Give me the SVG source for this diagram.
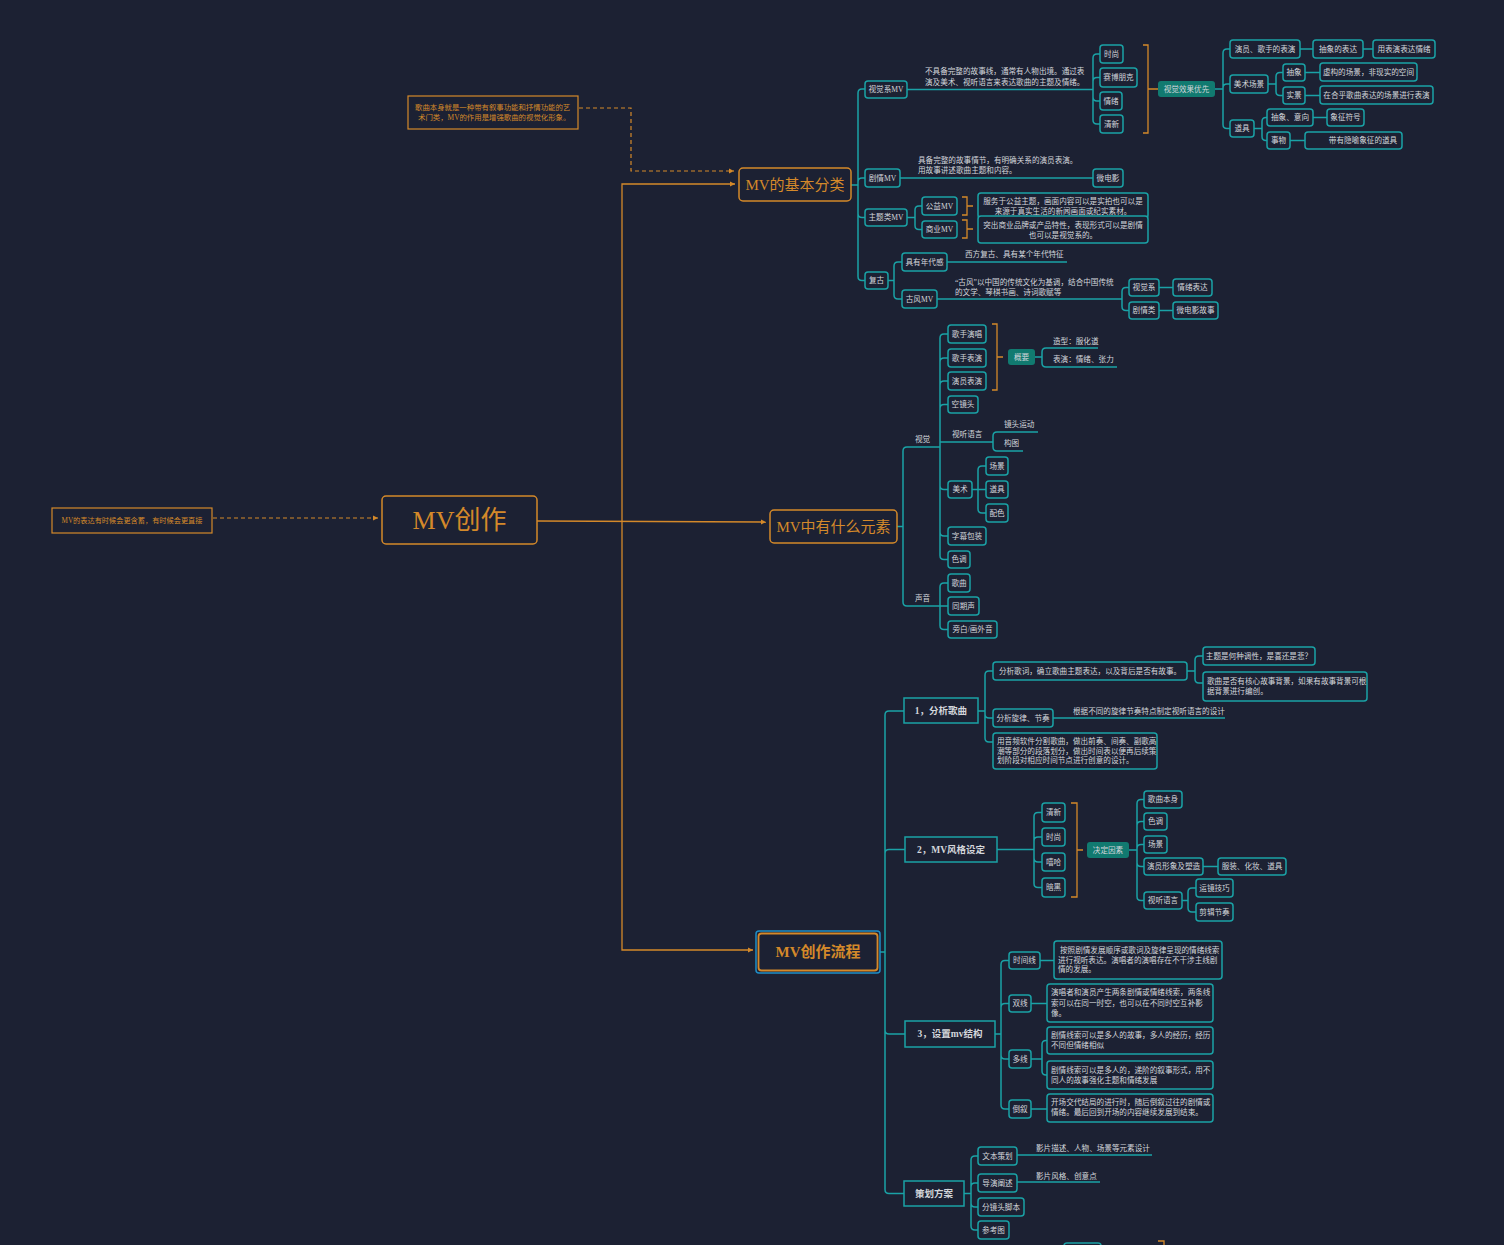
<svg xmlns="http://www.w3.org/2000/svg" width="1504" height="1245" viewBox="0 0 1504 1245">
<defs>
<marker id="ao" markerWidth="6" markerHeight="6" refX="5" refY="3" orient="auto" markerUnits="userSpaceOnUse"><path d="M0,0.5 L5,3 L0,5.5z" fill="#d4892a"/></marker>
<style>
.c{fill:none;stroke:#1aa2a6;stroke-width:1.5}
.o{fill:none;stroke:#d4892a;stroke-width:1.3}
.od{fill:none;stroke:#d4892a;stroke-width:1.2;stroke-dasharray:4 3}
.n{fill:#1c2133;stroke:#1aa2a6;stroke-width:1.5}
.nf{fill:#117a70;stroke:none}
.no{fill:#1c2133;stroke:#d4892a;stroke-width:1.5}
.t{font-family:"Liberation Serif","Noto Sans CJK SC",serif;font-size:7.6px;fill:#d3d6db;dominant-baseline:central}
.m{text-anchor:middle}
.ot{fill:#d4892a}
.h{font-size:15px;fill:#d4892a;text-anchor:middle}
.b{font-size:9.5px;font-weight:bold;text-anchor:middle}
</style>
</defs>
<rect x="0" y="0" width="1504" height="1245" fill="#1c2133"/>

<g id="main-connectors">
<path class="od" d="M213,518H378" marker-end="url(#ao)"/>
<path class="o" d="M537,521L766,522" marker-end="url(#ao)"/>
<path class="o" d="M622,521V184H735" marker-end="url(#ao)"/>
<path class="o" d="M622,521V950H753" marker-end="url(#ao)"/>
<path class="od" d="M579,108H631V171H734" marker-end="url(#ao)"/>
</g>

<g id="connectors">
<!-- basic category -->
<path class="c" d="M851,185H858M858,185V93Q858,89 862,89H865M858,185V182Q858,178 862,178H865M858,185V213.5Q858,217.5 862,217.5H865M858,185V276.5Q858,280.5 862,280.5H865"/>
<path class="c" d="M907,89.5H1093M1093,89.5V58Q1093,54 1097,54H1100M1093,89.5V81.5Q1093,77.5 1097,77.5H1100M1093,89.5V97Q1093,101 1097,101H1100M1093,89.5V120Q1093,124 1097,124H1100"/>
<path class="c" d="M1215,89H1223M1223,89V53Q1223,49 1227,49H1230M1223,89V88Q1223,84 1227,84H1230M1223,89V124.5Q1223,128.5 1227,128.5H1230M1300,49H1313M1363,49H1373"/>
<path class="c" d="M1268,84H1276M1276,84V76.5Q1276,72.5 1280,72.5H1283M1276,84V91.5Q1276,95.5 1280,95.5H1283M1305,72.5H1320M1305,95.5H1320"/>
<path class="c" d="M1254,128.5H1262M1262,128.5V121.5Q1262,117.5 1266,117.5H1267M1262,128.5V136.5Q1262,140.5 1266,140.5H1267M1313,117.5H1327M1290,140.5H1305"/>
<path class="c" d="M900,178H1093"/>
<path class="c" d="M907,217.5H915M915,217.5V210Q915,206 919,206H922M915,217.5V225.5Q915,229.5 919,229.5H922"/>
<path class="c" d="M888,280.5H894M894,280.5V266Q894,262 898,262H902M894,280.5V295Q894,299 898,299H902M947,262H1067M937,299H1122M1122,299V291.5Q1122,287.5 1126,287.5H1129M1122,299V306.5Q1122,310.5 1126,310.5H1129M1159,287.5H1173M1159,310.5H1173"/>
<path class="o" d="M1143,45H1148V133H1143M1148,89H1158"/>
<path class="o" d="M962,197H967V215H962M967,206H973M962,220H967V238H962M967,229H973"/>
<!-- elements -->
<path class="c" d="M897,526.5H903M903,526.5V451Q903,447 907,447H940M903,526.5V602Q903,606 907,606H940"/>
<path class="c" d="M940,447V338Q940,334 944,334H948M940,447V362Q940,358 944,358H948M940,447V385Q940,381 944,381H948M940,447V408.5Q940,404.5 944,404.5H948M940,442H993M940,447V485.5Q940,489.5 944,489.5H948M940,447V532Q940,536 944,536H948M940,447V555.5Q940,559.5 944,559.5H948"/>
<path class="c" d="M993,442V436Q993,432 997,432H1038M993,442V447Q993,451 997,451H1023"/>
<path class="c" d="M972,489.5H978M978,489.5V470Q978,466 982,466H986M978,489.5H986M978,489.5V509Q978,513 982,513H986"/>
<path class="c" d="M940,606V587Q940,583 944,583H948M940,606H948M940,606V625.5Q940,629.5 944,629.5H948"/>
<path class="c" d="M1035,357H1042M1042,357V352Q1042,348 1046,348H1098M1042,357V363Q1042,367 1046,367H1117"/>
<path class="o" d="M992,324H997V390H992M997,357H1003"/>
<!-- process -->
<path class="c" d="M880,952H885M885,952V715Q885,711 889,711H904M885,952V853.5Q885,849.5 889,849.5H905M885,952V1030Q885,1034 889,1034H905M885,952V1189.5Q885,1193.5 889,1193.5H904"/>
<path class="c" d="M978,711H985M985,711V675Q985,671 989,671H993M985,711V714Q985,718 989,718H993M985,711V738Q985,742 989,742H993M1053,718H1225"/>
<path class="c" d="M1187,671H1195M1195,671V660Q1195,656 1199,656H1203M1195,671V679Q1195,683 1199,683H1203"/>
<path class="c" d="M997,849.5H1034M1034,849.5V816.5Q1034,812.5 1038,812.5H1042M1034,849.5V841Q1034,837 1038,837H1042M1034,849.5V858Q1034,862 1038,862H1042M1034,849.5V883.5Q1034,887.5 1038,887.5H1042"/>
<path class="o" d="M1071,803H1077V897H1071M1077,850H1083"/>
<path class="c" d="M1129,850H1137M1137,850V803.5Q1137,799.5 1141,799.5H1144M1137,850V825.5Q1137,821.5 1141,821.5H1144M1137,850V848.5Q1137,844.5 1141,844.5H1144M1137,850V862.5Q1137,866.5 1141,866.5H1144M1137,850V896.5Q1137,900.5 1141,900.5H1144M1203,866.5H1218"/>
<path class="c" d="M1182,900.5H1188M1188,900.5V892Q1188,888 1192,888H1196M1188,900.5V908Q1188,912 1192,912H1196"/>
<path class="c" d="M995,1034H1001M1001,1034V964.5Q1001,960.5 1005,960.5H1009M1001,1034V1007.5Q1001,1003.5 1005,1003.5H1009M1001,1034V1055Q1001,1059 1005,1059H1009M1001,1034V1105Q1001,1109 1005,1109H1009"/>
<path class="c" d="M1040,960.5H1054M1031,1003.5H1047M1031,1059H1042M1042,1059V1044.5Q1042,1040.5 1046,1040.5H1047M1042,1059V1071Q1042,1075 1046,1075H1047M1031,1109H1047"/>
<path class="c" d="M964,1193.5H971M971,1193.5V1160Q971,1156 975,1156H978M971,1193.5V1187Q971,1183 975,1183H978M971,1193.5V1203Q971,1207 975,1207H978M971,1193.5V1226Q971,1230 975,1230H978M1017,1155H1152M1017,1182H1100"/>
<path class="o" d="M1158,1241H1164V1250"/>
</g>

<g id="notes">
<g id="note-top"><rect class="no" x="408" y="96" width="170" height="33" style="stroke-width:1.2"/>
<text class="t ot" x="415" y="107" style="font-size:7.4px">歌曲本身就是一种带有叙事功能和抒情功能的艺</text>
<text class="t ot" x="418" y="117" style="font-size:7.4px">术门类，MV的作用是增强歌曲的视觉化形象。</text></g>
<g id="note-left"><rect class="no" x="52" y="508" width="160" height="25" style="stroke-width:1.2"/>
<text class="t ot m" x="132" y="520.5" style="font-size:7.2px">MV的表达有时候会更含蓄，有时候会更直接</text></g>
</g>

<g id="root"><rect class="no" x="382" y="496" width="155" height="48" rx="4"/><text class="t ot m" x="459.5" y="520" style="font-size:26px">MV创作</text></g>
<g id="basic"><rect class="no" x="739" y="168" width="112" height="33" rx="4"/><text class="t h" x="795" y="185">MV的基本分类</text></g>
<g id="elements"><rect class="no" x="770" y="510" width="127" height="33" rx="4"/><text class="t h" x="833.5" y="526.5">MV中有什么元素</text></g>
<g id="process"><rect x="756" y="931" width="124" height="42" rx="3" fill="none" stroke="#1e8ec8" stroke-width="1.5"/><rect class="no" x="758.5" y="933.5" width="119" height="37" rx="3" style="stroke-width:1.8"/><text class="t h" x="818" y="952" style="font-weight:bold">MV创作流程</text></g>

<!-- basic category nodes -->
<g id="b-visual"><rect class="n" x="865" y="81" width="42" height="17" rx="3"/><text class="t m" x="886" y="89.5">视觉系MV</text></g>
<g id="b-visual-desc"><text class="t" x="925" y="71">不具备完整的故事线，通常有人物出境。通过表</text><text class="t" x="925" y="82">演及美术、视听语言来表达歌曲的主题及情绪。</text></g>
<g id="b-v1"><rect class="n" x="1100" y="45" width="23" height="18" rx="3"/><text class="t m" x="1111.5" y="54">时尚</text></g>
<g id="b-v2"><rect class="n" x="1100" y="68" width="37" height="19" rx="3"/><text class="t m" x="1118.5" y="77.5">赛博朋克</text></g>
<g id="b-v3"><rect class="n" x="1100" y="92" width="22" height="18" rx="3"/><text class="t m" x="1111" y="101">情绪</text></g>
<g id="b-v4"><rect class="n" x="1100" y="115" width="23" height="18" rx="3"/><text class="t m" x="1111.5" y="124">清新</text></g>
<g id="b-vfx"><rect class="nf" x="1158" y="81" width="57" height="16" rx="3"/><text class="t m" x="1186.5" y="89">视觉效果优先</text></g>
<g id="b-act"><rect class="n" x="1230" y="40" width="70" height="18" rx="3"/><text class="t m" x="1265" y="49">演员、歌手的表演</text></g>
<g id="b-act2"><rect class="n" x="1313" y="40" width="50" height="18" rx="3"/><text class="t m" x="1338" y="49">抽象的表达</text></g>
<g id="b-act3"><rect class="n" x="1373" y="40" width="62" height="18" rx="3"/><text class="t m" x="1404" y="49">用表演表达情绪</text></g>
<g id="b-art"><rect class="n" x="1230" y="75" width="38" height="18" rx="3"/><text class="t m" x="1249" y="84">美术场景</text></g>
<g id="b-art1"><rect class="n" x="1283" y="64" width="22" height="17" rx="3"/><text class="t m" x="1294" y="72.5">抽象</text></g>
<g id="b-art2"><rect class="n" x="1283" y="87" width="22" height="17" rx="3"/><text class="t m" x="1294" y="95.5">实景</text></g>
<g id="b-art1d"><rect class="n" x="1320" y="63" width="97" height="18" rx="3"/><text class="t m" x="1368.5" y="72">虚构的场景，非现实的空间</text></g>
<g id="b-art2d"><rect class="n" x="1320" y="86" width="113" height="18" rx="3"/><text class="t m" x="1376.5" y="95">在合乎歌曲表达的场景进行表演</text></g>
<g id="b-prop"><rect class="n" x="1230" y="120" width="24" height="17" rx="3"/><text class="t m" x="1242" y="128.5">道具</text></g>
<g id="b-prop1"><rect class="n" x="1267" y="109" width="46" height="17" rx="3"/><text class="t m" x="1290" y="117.5">抽象、意向</text></g>
<g id="b-prop1d"><rect class="n" x="1327" y="109" width="37" height="17" rx="3"/><text class="t m" x="1345.5" y="117.5">象征符号</text></g>
<g id="b-prop2"><rect class="n" x="1267" y="132" width="23" height="17" rx="3"/><text class="t m" x="1278.5" y="140.5">事物</text></g>
<g id="b-prop2d"><rect class="n" x="1305" y="132" width="97" height="17" rx="3"/><text class="t m" x="1363" y="140.5">带有隐喻象征的道具</text></g>
<g id="b-drama"><rect class="n" x="865" y="169" width="35" height="18" rx="3"/><text class="t m" x="882.5" y="178">剧情MV</text></g>
<g id="b-drama-desc"><text class="t" x="918" y="160.5">具备完整的故事情节，有明确关系的演员表演。</text><text class="t" x="918" y="170.5">用故事讲述歌曲主题和内容。</text></g>
<g id="b-micro"><rect class="n" x="1093" y="169" width="30" height="18" rx="3"/><text class="t m" x="1108" y="178">微电影</text></g>
<g id="b-theme"><rect class="n" x="865" y="209" width="42" height="17" rx="3"/><text class="t m" x="886" y="217.5">主题类MV</text></g>
<g id="b-public"><rect class="n" x="922" y="197" width="35" height="18" rx="3"/><text class="t m" x="939.5" y="206">公益MV</text></g>
<g id="b-comm"><rect class="n" x="922" y="221" width="35" height="17" rx="3"/><text class="t m" x="939.5" y="229.5">商业MV</text></g>
<g id="b-public-d"><rect class="n" x="978" y="193" width="170" height="25" rx="3"/><text class="t m" x="1063" y="201">服务于公益主题，画面内容可以是实拍也可以是</text><text class="t m" x="1063" y="211">来源于真实生活的新闻画面或纪实素材。</text></g>
<g id="b-comm-d"><rect class="n" x="978" y="216" width="170" height="27" rx="3"/><text class="t m" x="1063" y="225">突出商业品牌或产品特性，表现形式可以是剧情</text><text class="t m" x="1063" y="235">也可以是视觉系的。</text></g>
<g id="b-retro"><rect class="n" x="865" y="272" width="23" height="17" rx="3"/><text class="t m" x="876.5" y="280.5">复古</text></g>
<g id="b-era"><rect class="n" x="902" y="253" width="45" height="18" rx="3"/><text class="t m" x="924.5" y="262">具有年代感</text></g>
<g id="b-era-d"><text class="t" x="965" y="254">西方复古、具有某个年代特征</text></g>
<g id="b-gufeng"><rect class="n" x="902" y="290" width="35" height="18" rx="3"/><text class="t m" x="919.5" y="299">古风MV</text></g>
<g id="b-gufeng-d"><text class="t" x="955" y="282">“古风”以中国的传统文化为基调，结合中国传统</text><text class="t" x="955" y="292">的文学、琴棋书画、诗词歌赋等</text></g>
<g id="b-g1"><rect class="n" x="1129" y="279" width="30" height="17" rx="3"/><text class="t m" x="1144" y="287.5">视觉系</text></g>
<g id="b-g2"><rect class="n" x="1129" y="302" width="30" height="17" rx="3"/><text class="t m" x="1144" y="310.5">剧情类</text></g>
<g id="b-g1d"><rect class="n" x="1173" y="279" width="39" height="17" rx="3"/><text class="t m" x="1192.5" y="287.5">情绪表达</text></g>
<g id="b-g2d"><rect class="n" x="1173" y="302" width="45" height="17" rx="3"/><text class="t m" x="1195.5" y="310.5">微电影故事</text></g>

<!-- elements nodes -->
<g id="e-visual"><text class="t" x="915" y="439">视觉</text></g>
<g id="e-sound"><text class="t" x="915" y="598">声音</text></g>
<g id="e1"><rect class="n" x="948" y="325" width="38" height="18" rx="3"/><text class="t m" x="967" y="334">歌手演唱</text></g>
<g id="e2"><rect class="n" x="948" y="349" width="38" height="18" rx="3"/><text class="t m" x="967" y="358">歌手表演</text></g>
<g id="e3"><rect class="n" x="948" y="372" width="38" height="18" rx="3"/><text class="t m" x="967" y="381">演员表演</text></g>
<g id="e4"><rect class="n" x="948" y="396" width="30" height="17" rx="3"/><text class="t m" x="963" y="404.5">空镜头</text></g>
<g id="e5"><text class="t" x="952" y="434">视听语言</text></g>
<g id="e5a"><text class="t" x="1004" y="424">镜头运动</text></g>
<g id="e5b"><text class="t" x="1004" y="443">构图</text></g>
<g id="e6"><rect class="n" x="948" y="481" width="24" height="17" rx="3"/><text class="t m" x="960" y="489.5">美术</text></g>
<g id="e6a"><rect class="n" x="986" y="457" width="22" height="18" rx="3"/><text class="t m" x="997" y="466">场景</text></g>
<g id="e6b"><rect class="n" x="986" y="481" width="22" height="17" rx="3"/><text class="t m" x="997" y="489.5">道具</text></g>
<g id="e6c"><rect class="n" x="986" y="504" width="22" height="18" rx="3"/><text class="t m" x="997" y="513">配色</text></g>
<g id="e7"><rect class="n" x="948" y="527" width="38" height="18" rx="3"/><text class="t m" x="967" y="536">字幕包装</text></g>
<g id="e8"><rect class="n" x="948" y="551" width="22" height="17" rx="3"/><text class="t m" x="959" y="559.5">色调</text></g>
<g id="e9"><rect class="n" x="948" y="574" width="22" height="18" rx="3"/><text class="t m" x="959" y="583">歌曲</text></g>
<g id="e10"><rect class="n" x="948" y="597" width="31" height="18" rx="3"/><text class="t m" x="963.5" y="606">同期声</text></g>
<g id="e11"><rect class="n" x="948" y="621" width="49" height="17" rx="3"/><text class="t m" x="972.5" y="629.5">旁白/画外音</text></g>
<g id="e-sum"><rect class="nf" x="1008" y="349" width="27" height="16" rx="3"/><text class="t m" x="1021.5" y="357">概要</text></g>
<g id="e-sum1"><text class="t" x="1053" y="341">造型：服化道</text></g>
<g id="e-sum2"><text class="t" x="1053" y="359">表演：情绪、张力</text></g>

<!-- process nodes -->
<g id="p1"><rect class="n" x="904" y="698" width="74" height="25"/><text class="t b" x="941" y="711">1，分析歌曲</text></g>
<g id="p1a"><rect class="n" x="993" y="662" width="194" height="18" rx="3"/><text class="t m" x="1090" y="671">分析歌词，确立歌曲主题表达，以及背后是否有故事。</text></g>
<g id="p1a1"><rect class="n" x="1203" y="647" width="112" height="18" rx="3"/><text class="t m" x="1259" y="656">主题是何种调性，是喜还是悲？</text></g>
<g id="p1a2"><rect class="n" x="1203" y="672" width="164" height="29" rx="3"/><text class="t" x="1207" y="681">歌曲是否有核心故事背景，如果有故事背景可根</text><text class="t" x="1207" y="691">据背景进行编创。</text></g>
<g id="p1b"><rect class="n" x="993" y="709" width="60" height="18" rx="3"/><text class="t m" x="1023" y="718">分析旋律、节奏</text></g>
<g id="p1b-d"><text class="t" x="1073" y="711">根据不同的旋律节奏特点制定视听语言的设计</text></g>
<g id="p1c"><rect class="n" x="993" y="733" width="164" height="36" rx="3"/><text class="t" x="997" y="741.5">用音频软件分割歌曲，做出前奏、间奏、副歌高</text><text class="t" x="997" y="751">潮等部分的段落划分，做出时间表以便再后续策</text><text class="t" x="997" y="760.5">划阶段对相应时间节点进行创意的设计。</text></g>

<g id="p2"><rect class="n" x="905" y="837" width="92" height="25"/><text class="t b" x="951" y="849.5">2，MV风格设定</text></g>
<g id="p2a"><rect class="n" x="1042" y="803" width="23" height="19" rx="3"/><text class="t m" x="1053.5" y="812.5">清新</text></g>
<g id="p2b"><rect class="n" x="1042" y="828" width="23" height="18" rx="3"/><text class="t m" x="1053.5" y="837">时尚</text></g>
<g id="p2c"><rect class="n" x="1042" y="853" width="23" height="18" rx="3"/><text class="t m" x="1053.5" y="862">嘻哈</text></g>
<g id="p2d"><rect class="n" x="1042" y="878" width="23" height="19" rx="3"/><text class="t m" x="1053.5" y="887.5">暗黑</text></g>
<g id="p2-factor"><rect class="nf" x="1087" y="842" width="42" height="16" rx="3"/><text class="t m" x="1108" y="850">决定因素</text></g>
<g id="p2f1"><rect class="n" x="1144" y="791" width="38" height="17" rx="3"/><text class="t m" x="1163" y="799.5">歌曲本身</text></g>
<g id="p2f2"><rect class="n" x="1144" y="813" width="23" height="17" rx="3"/><text class="t m" x="1155.5" y="821.5">色调</text></g>
<g id="p2f3"><rect class="n" x="1144" y="836" width="23" height="17" rx="3"/><text class="t m" x="1155.5" y="844.5">场景</text></g>
<g id="p2f4"><rect class="n" x="1144" y="858" width="59" height="17" rx="3"/><text class="t m" x="1173.5" y="866.5">演员形象及塑造</text></g>
<g id="p2f4a"><rect class="n" x="1218" y="858" width="68" height="17" rx="3"/><text class="t m" x="1252" y="866.5">服装、化妆、道具</text></g>
<g id="p2f5"><rect class="n" x="1144" y="892" width="38" height="17" rx="3"/><text class="t m" x="1163" y="900.5">视听语言</text></g>
<g id="p2f5a"><rect class="n" x="1196" y="879" width="37" height="18" rx="3"/><text class="t m" x="1214.5" y="888">运镜技巧</text></g>
<g id="p2f5b"><rect class="n" x="1196" y="903" width="37" height="18" rx="3"/><text class="t m" x="1214.5" y="912">剪辑节奏</text></g>

<g id="p3"><rect class="n" x="905" y="1021" width="90" height="26"/><text class="t b" x="950" y="1034">3，设置mv结构</text></g>
<g id="p3a"><rect class="n" x="1009" y="952" width="31" height="17" rx="3"/><text class="t m" x="1024.5" y="960.5">时间线</text></g>
<g id="p3a-d"><rect class="n" x="1054" y="941" width="168" height="38" rx="3"/><text class="t" x="1060" y="950">按照剧情发展顺序或歌词及旋律呈现的情绪线索</text><text class="t" x="1058" y="960">进行视听表达。演唱者的演唱存在不干涉主线剧</text><text class="t" x="1058" y="969.5">情的发展。</text></g>
<g id="p3b"><rect class="n" x="1009" y="995" width="22" height="17" rx="3"/><text class="t m" x="1020" y="1003.5">双线</text></g>
<g id="p3b-d"><rect class="n" x="1047" y="984" width="166" height="38" rx="3"/><text class="t" x="1051" y="992.5">演唱者和演员产生两条剧情或情绪线索，两条线</text><text class="t" x="1051" y="1003">索可以在同一时空，也可以在不同时空互补影</text><text class="t" x="1051" y="1013">像。</text></g>
<g id="p3c"><rect class="n" x="1009" y="1050" width="22" height="18" rx="3"/><text class="t m" x="1020" y="1059">多线</text></g>
<g id="p3c-d1"><rect class="n" x="1047" y="1027" width="166" height="27" rx="3"/><text class="t" x="1051" y="1035.5">剧情线索可以是多人的故事，多人的经历，经历</text><text class="t" x="1051" y="1045.5">不同但情绪相似</text></g>
<g id="p3c-d2"><rect class="n" x="1047" y="1061" width="166" height="28" rx="3"/><text class="t" x="1051" y="1070">剧情线索可以是多人的，递阶的叙事形式，用不</text><text class="t" x="1051" y="1080">同人的故事强化主题和情绪发展</text></g>
<g id="p3d"><rect class="n" x="1009" y="1100" width="22" height="18" rx="3"/><text class="t m" x="1020" y="1109">倒叙</text></g>
<g id="p3d-d"><rect class="n" x="1047" y="1094" width="166" height="28" rx="3"/><text class="t" x="1051" y="1102.5">开场交代结局的进行时，随后倒叙过往的剧情或</text><text class="t" x="1051" y="1112.5">情绪。最后回到开场的内容继续发展到结束。</text></g>

<g id="p4"><rect class="n" x="904" y="1181" width="60" height="25"/><text class="t b" x="934" y="1193.5">策划方案</text></g>
<g id="p4a"><rect class="n" x="978" y="1147" width="39" height="18" rx="3"/><text class="t m" x="997.5" y="1156">文本策划</text></g>
<g id="p4a-d"><text class="t" x="1036" y="1148">影片描述、人物、场景等元素设计</text></g>
<g id="p4b"><rect class="n" x="978" y="1174" width="39" height="18" rx="3"/><text class="t m" x="997.5" y="1183">导演阐述</text></g>
<g id="p4b-d"><text class="t" x="1036" y="1176">影片风格、创意点</text></g>
<g id="p4c"><rect class="n" x="978" y="1198" width="46" height="18" rx="3"/><text class="t m" x="1001" y="1207">分镜头脚本</text></g>
<g id="p4d"><rect class="n" x="978" y="1221" width="31" height="18" rx="3"/><text class="t m" x="993.5" y="1230">参考图</text></g>
<g id="partial"><rect class="n" x="1064" y="1243" width="37" height="17" rx="3"/></g>
</svg>
